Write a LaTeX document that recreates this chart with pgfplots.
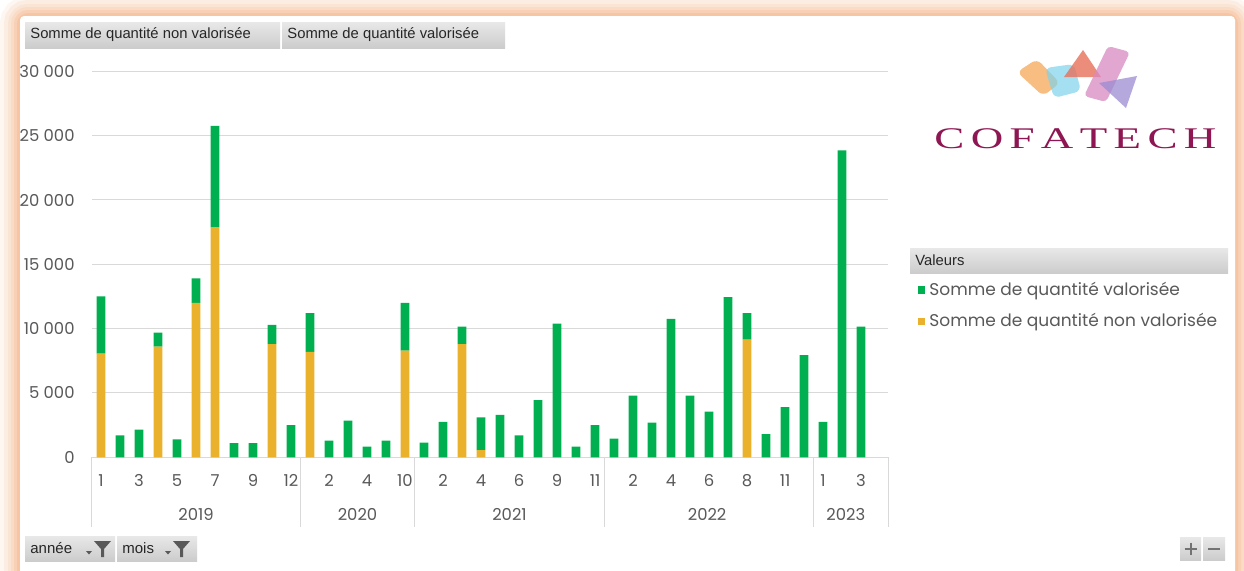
\documentclass[border=0pt]{standalone}
\usepackage{fontspec}
\setmainfont{Poppins}
\newfontfamily\tahoma{Liberation Sans}
\newfontfamily\cofa{Liberation Serif}
\usepackage{pgfplots}
\pgfplotsset{compat=1.18}
\usepackage{pgfplotstable}

\definecolor{vgreen}{HTML}{00B050}
\definecolor{vorange}{HTML}{E9B12C}
\definecolor{gridc}{HTML}{D9D9D9}
\definecolor{txtc}{HTML}{595959}
\definecolor{peach}{HTML}{F6B98E}
\definecolor{btntop}{HTML}{E8E8E8}
\definecolor{btnbot}{HTML}{CCCCCC}
\definecolor{cofam}{HTML}{8E1652}
\definecolor{lgorange}{HTML}{F5A857}
\definecolor{lgcyan}{HTML}{7ED3EC}
\definecolor{lgred}{HTML}{E8705A}
\definecolor{lgpink}{HTML}{D98AC2}
\definecolor{lgpurple}{HTML}{9C8CD2}

\pgfplotstableread{
idx nonval val
0 8050 4450
1 0 1700
2 0 2150
3 8600 1100
4 0 1400
5 12000 1900
6 17900 7850
7 0 1100
8 0 1100
9 8800 1500
10 0 2500
11 8200 3000
12 0 1300
13 0 2850
14 0 830
15 0 1300
16 8300 3700
17 0 1150
18 0 2750
19 8800 1350
20 550 2550
21 0 3300
22 0 1700
23 0 4450
24 0 10400
25 0 830
26 0 2500
27 0 1450
28 0 4800
29 0 2700
30 0 10750
31 0 4800
32 0 3550
33 0 12450
34 9150 2050
35 0 1800
36 0 3900
37 0 7950
38 0 2750
39 0 23850
40 0 10150
}\datatable

\begin{document}
\begin{tikzpicture}
\begin{scope}[x=0.5pt,y=-0.5pt]
\useasboundingbox (0,0) rectangle (1244,570);
\fill[white] (0,0) rectangle (1244,570);
\begin{scope}
\clip (0,0) rectangle (1244,570);
\foreach \w/\o in {40/0.12, 32/0.14, 24/0.17, 18/0.2, 12/0.3, 6/0.45} {
  \draw[peach, line width=\w*0.5pt, opacity=\o, rounded corners=4pt] (20,16) rectangle (1235,640);
}
\fill[white, rounded corners=2pt] (20,16) rectangle (1235,640);
\end{scope}
% header buttons
\shade[top color=btntop, bottom color=btnbot] (25,22) rectangle (280,48);
\shade[top color=btntop, bottom color=btnbot] (282,22) rectangle (505,48);
\node[anchor=west, inner sep=0pt, font=\tahoma\fontsize{7.4}{8}\selectfont, text=black!85] at (30,35) {Somme de quantité non valorisée};
\node[anchor=west, inner sep=0pt, font=\tahoma\fontsize{7.4}{8}\selectfont, text=black!85] at (287,35) {Somme de quantité valorisée};
% legend header
\shade[top color=btntop, bottom color=btnbot] (910,248) rectangle (1228,273);
\node[anchor=west, inner sep=0pt, font=\tahoma\fontsize{7.4}{8}\selectfont, text=black!85] at (915,260.5) {Valeurs};
% logo
\fill[lgorange, opacity=0.75, rounded corners=3pt] (1017,72) -- (1037,59) -- (1060,83) -- (1043,96) -- cycle;
\fill[lgcyan, opacity=0.7, rounded corners=3pt] (1045,68) -- (1074,64) -- (1081,91) -- (1054,98) -- cycle;
\fill[lgred, opacity=0.8] (1083,50) -- (1064,77) -- (1101,77) -- cycle;
\fill[lgpink, opacity=0.75, rounded corners=2pt] (1108,46) -- (1130,52) -- (1106,102) -- (1084,96) -- cycle;
\fill[lgpurple, opacity=0.75] (1099,83) -- (1137,76) -- (1126,108) -- cycle;
\node[anchor=base west, inner sep=0pt, text=cofam, font=\cofa\fontsize{15}{16}\selectfont] at (934,148) {\scalebox{1.5}[1]{\makebox[94pt][s]{C\hfill O\hfill F\hfill A\hfill T\hfill E\hfill C\hfill H}}};
% bottom buttons
\shade[top color=btntop, bottom color=btnbot] (25,536) rectangle (115,561);
\shade[top color=btntop, bottom color=btnbot] (117,536) rectangle (197,561);
\node[anchor=west, inner sep=0pt, font=\tahoma\fontsize{7.5}{8}\selectfont, text=black!85] at (30,548) {année};
\node[anchor=west, inner sep=0pt, font=\tahoma\fontsize{7.5}{8}\selectfont, text=black!85] at (122,548) {mois};
\fill[black!65] (86,551) -- (92,551) -- (89,554.5) -- cycle;
\fill[black!65] (94,541) -- (111,541) -- (104,549) -- (104,557) -- (101,557) -- (101,549) -- cycle;
\fill[black!65] (165,551) -- (171,551) -- (168,554.5) -- cycle;
\fill[black!65] (173,541) -- (190,541) -- (183,549) -- (183,557) -- (180,557) -- (180,549) -- cycle;
% plus minus
\shade[top color=btntop, bottom color=btnbot] (1180,537) rectangle (1201,560);
\shade[top color=btntop, bottom color=btnbot] (1203,537) rectangle (1225,560);
\draw[black!55, line width=1pt] (1184.5,548.5) -- (1196.5,548.5) (1190.5,542.5) -- (1190.5,554.5);
\draw[black!55, line width=1pt] (1208,548.5) -- (1220,548.5);
\end{scope}

\begin{axis}[
  at={(46pt,-228.65pt)}, anchor=south west, scale only axis,
  width=398pt, height=193pt,
  ybar stacked, bar width=4.4pt,
  xmin=-0.474, xmax=41.42, ymin=0, ymax=30000,
  axis x line*=bottom, axis y line*=left,
  y axis line style={draw=none},
  x axis line style={draw=gridc, line width=0.6pt},
  xtick={0,2,...,40},
  xticklabels={1,3,5,7,9,12,2,4,10,2,4,6,9,11,2,4,6,8,11,1,3},
  ytick={0,5000,10000,15000,20000,25000,30000},
  yticklabels={0,5~000,10~000,15~000,20~000,25~000,30~000},
  scaled y ticks=false,
  major tick length=0pt,
  tick style={draw=none},
  ymajorgrids, grid style={draw=gridc, line width=0.5pt},
  tick label style={font=\fontsize{8.2}{10}\selectfont, text=txtc},
  yticklabel style={anchor=east, inner sep=0pt, xshift=-8.5pt},
  xticklabel style={anchor=base, inner sep=0pt, yshift=-14.5pt},
  clip=false,
  reverse legend,
  legend style={at={(1.037,0.392)}, anchor=west, draw=none, fill=none,
    font=\fontsize{8.5}{10}\selectfont, text=txtc, row sep=3.6pt, inner sep=0pt},
  legend cell align=left,
  legend image code/.code={\fill[#1] (0pt,-1.8pt) rectangle (3.8pt,2pt);},
]
\addplot[fill=vorange, draw=none] table[x=idx,y=nonval]{\datatable};
\addplot[fill=vgreen, draw=none] table[x=idx,y=val]{\datatable};
\legend{Somme de quantité non valorisée, Somme de quantité valorisée}
\foreach \s in {-0.474,10.5,16.5,26.5,37.5,41.42} {
  \edef\temp{\noexpand\draw[gridc, line width=0.5pt] (axis cs:\s,0) -- ++(0pt,-35pt);}
  \temp
}
\node[font=\fontsize{8.2}{10}\selectfont, text=txtc, anchor=base, inner sep=0pt] at (axis cs:5,0) [yshift=-31.5pt] {2019};
\node[font=\fontsize{8.2}{10}\selectfont, text=txtc, anchor=base, inner sep=0pt] at (axis cs:13.5,0) [yshift=-31.5pt] {2020};
\node[font=\fontsize{8.2}{10}\selectfont, text=txtc, anchor=base, inner sep=0pt] at (axis cs:21.5,0) [yshift=-31.5pt] {2021};
\node[font=\fontsize{8.2}{10}\selectfont, text=txtc, anchor=base, inner sep=0pt] at (axis cs:31.9,0) [yshift=-31.5pt] {2022};
\node[font=\fontsize{8.2}{10}\selectfont, text=txtc, anchor=base, inner sep=0pt] at (axis cs:39.2,0) [yshift=-31.5pt] {2023};
\end{axis}
\end{tikzpicture}
\end{document}
